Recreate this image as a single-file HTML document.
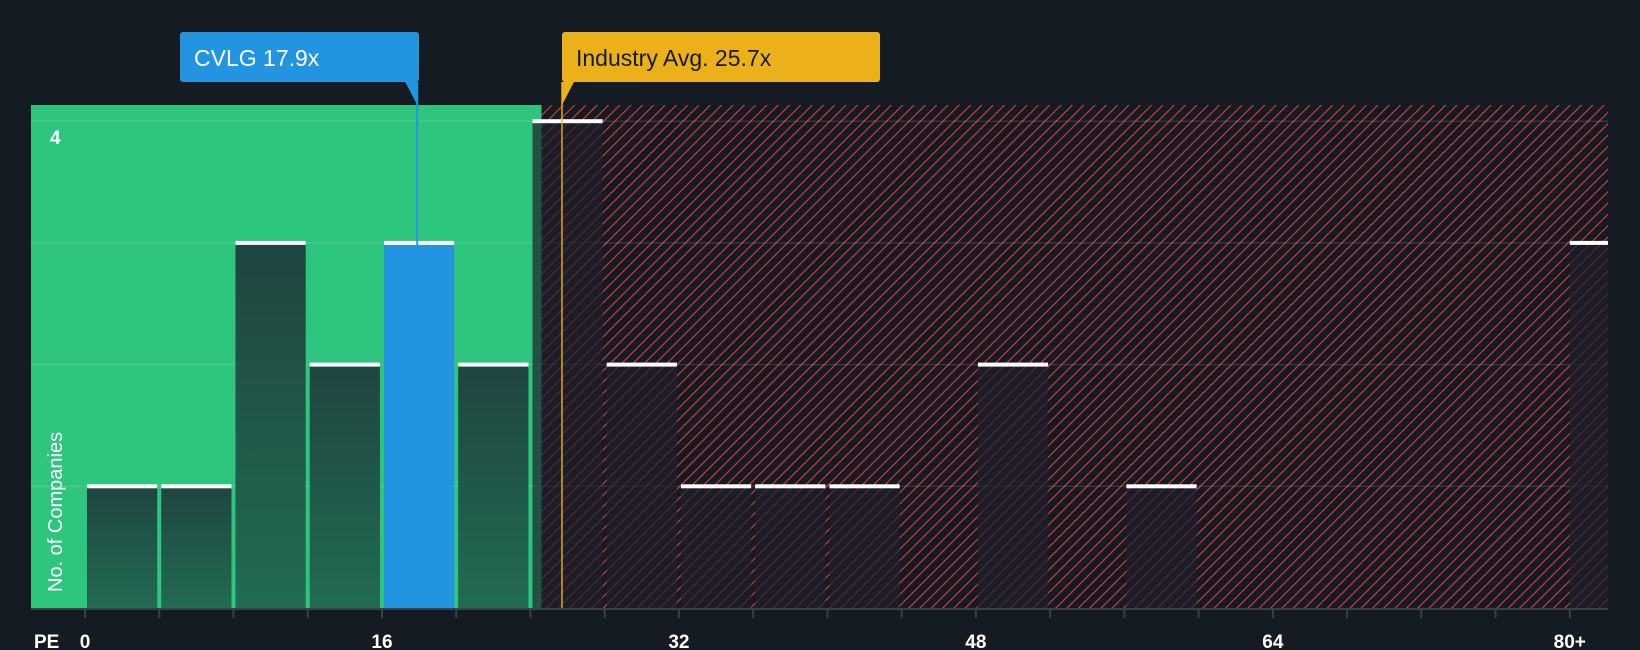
<!DOCTYPE html>
<html><head><meta charset="utf-8"><style>
body{margin:0;background:#151b23;width:1640px;height:650px;overflow:hidden;font-family:"Liberation Sans",sans-serif}
svg{display:block}
</style></head><body>
<svg id="chart" width="1640" height="650">
<defs>
<pattern id="hatch" patternUnits="userSpaceOnUse" width="8" height="8" patternTransform="rotate(45)">
<rect width="8" height="8" fill="#151b23"/><line x1="0" y1="0" x2="0" y2="8" stroke="#e03a3e" stroke-width="2.2"/>
</pattern>
<linearGradient id="gbar" x1="0" y1="0" x2="0" y2="1"><stop offset="0" stop-color="#1f4540"/><stop offset="1" stop-color="#226b52"/></linearGradient>
</defs>
</svg>
<script>
const binStarts=[0,4,8,12,16,20,24,28,32,36,40,44,48,52,56,60,64,68,72,76,80];
const counts=[1,1,3,2,3,2,4,2,1,1,1,0,2,0,1,0,0,0,0,0,3];
const tickVals=[0,16,32,48,64,80];
const tickLabels=["0","16","32","48","64","80+"];
const companyPE=17.9, industryPE=25.7;
const svg=document.getElementById('chart');const NS='http://www.w3.org/2000/svg';
const x0=85,pxPer=18.56,yBase=608,yUnit=121.7;
const X=v=>x0+v*pxPer, Y=c=>yBase-c*yUnit;
const greenEnd=X(24.6), plotL=31, plotR=1608, plotT=105;
function el(t,a,p){const e=document.createElementNS(NS,t);for(const k in a)e.setAttribute(k,a[k]);(p||svg).appendChild(e);return e;}
let g=el('rect',{x:plotL,y:plotT,width:greenEnd-plotL,height:yBase-plotT,fill:'#2ec57e'});

let h=el('rect',{x:greenEnd,y:plotT,width:plotR-greenEnd,height:yBase-plotT,fill:'url(#hatch)'});

for(let i=1;i<=4;i++){let l=el('line',{x1:plotL,x2:plotR,y1:Y(i),y2:Y(i),stroke:'rgba(255,255,255,0.12)','stroke-width':1.5});
}
binStarts.forEach((b,i)=>{const c=counts[i];if(!c)return;
 const last=i===binStarts.length-1;
 const w=last?(plotR-X(b)):(4*pxPer-4);
 const xl=X(b)+(last?0:2);
 const inGreen=xl+w/2<greenEnd;
 const isCo=companyPE>=b&&companyPE<b+4;
 let r=el('rect',{x:xl,y:Y(c),width:w,height:c*yUnit,fill:isCo?'#2394df':(inGreen?'url(#gbar)':'rgba(30,32,44,0.7)')});
 
 let t=el('rect',{x:xl,y:Y(c)-2,width:w,height:4,fill:'#fff'});
 
});
let ax=el('line',{x1:plotL,x2:plotR,y1:yBase+1,y2:yBase+1,stroke:'#3a4048','stroke-width':2});

binStarts.forEach(b=>{let t=el('line',{x1:X(b),x2:X(b),y1:yBase,y2:yBase+10,stroke:'#3a4048','stroke-width':2});
});
tickVals.forEach((v,i)=>{let t=el('text',{x:X(v),y:648,fill:'#fff','font-size':19,'font-weight':'bold','text-anchor':'middle'});t.textContent=tickLabels[i];
});
let pe=el('text',{x:34,y:648,fill:'#fff','font-size':19,'font-weight':'bold'});pe.textContent='PE';

let y4=el('text',{x:50,y:144,fill:'#fff','font-size':19,'font-weight':'bold'});y4.textContent='4';

let yt=el('text',{x:62,y:592,fill:'#fff','font-size':20,transform:'rotate(-90 62 592)'});yt.textContent='No. of Companies';

function marker(v,color,label,bx,bw,tc,name){
 const xm=X(v);
 let ln=el('line',{x1:xm,x2:xm,y1:82,y2:yBase,stroke:color,'stroke-width':2,opacity:v===industryPE?0.7:1});
 
 let bx1=el('rect',{x:bx,y:32,width:bw,height:50,rx:3,fill:color});
 
 let tri=el('polygon',{points:v===companyPE?`${xm-12},82 ${xm},82 ${xm},105`:`${xm},82 ${xm+12},82 ${xm},105`,fill:color});
 
 let t=el('text',{x:bx+14,y:66,fill:tc,'font-size':23});t.textContent=label;
 
}
marker(companyPE,'#2394df','CVLG 17.9x',180,239,'#fff','company-pe');
marker(industryPE,'#ecb11a','Industry Avg. 25.7x',562,318,'#151b23','industry-avg');
</script>
</body></html>
